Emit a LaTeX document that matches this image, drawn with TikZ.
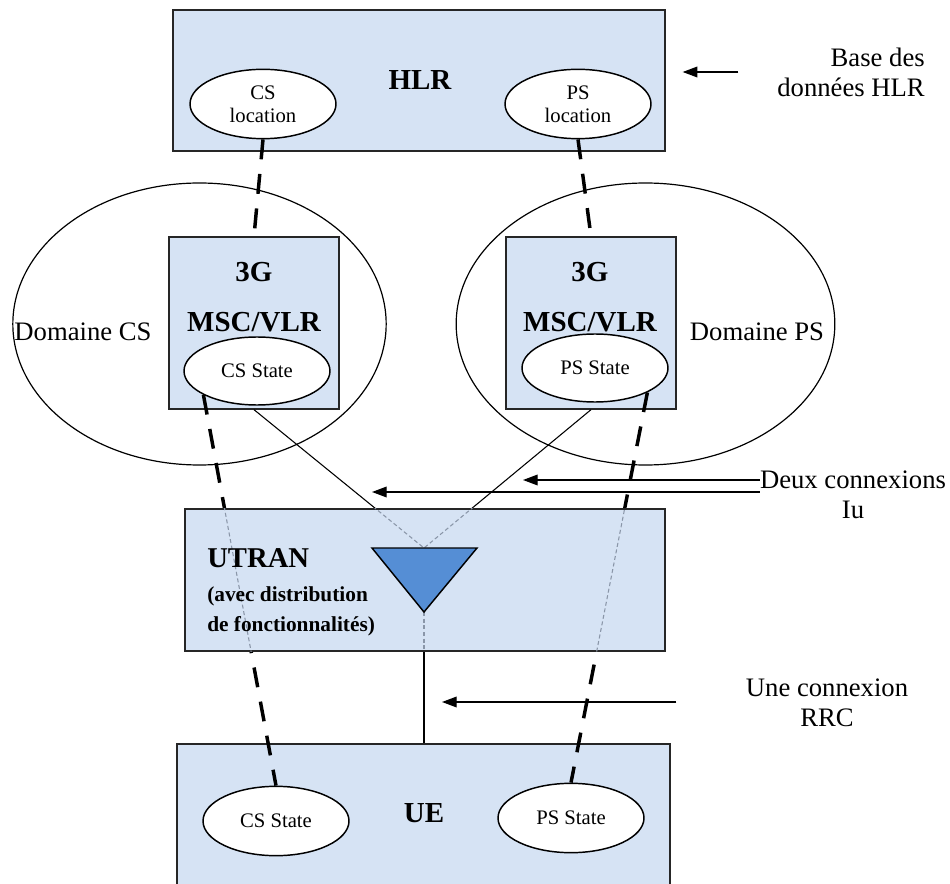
\documentclass[tikz,border=0pt]{standalone}
\usepackage{fontspec}
\setmainfont{Liberation Serif}
\usetikzlibrary{arrows.meta,shapes.geometric}
\definecolor{boxCol}{HTML}{D6E3F4}
\definecolor{triCol}{HTML}{558ED5}
\definecolor{faintCol}{HTML}{8A96A8}
\tikzset{
  blk/.style={draw=black!85, line width=1pt, fill=boxCol, inner sep=0pt},
  st/.style={ellipse, draw, line width=1.1pt, fill=white, minimum width=109.5pt, minimum height=52pt,
             inner sep=0pt, align=center, font=\fontsize{15.5}{17.5}\selectfont},
  dom/.style={ellipse, draw, line width=0.9pt, inner sep=0pt, minimum height=211.5pt},
  ttl/.style={font=\fontsize{21.75}{38}\selectfont\bfseries, align=center, inner sep=0pt},
  lbl/.style={font=\fontsize{20}{22.5}\selectfont, inner sep=0pt},
  sub/.style={font=\fontsize{16}{18}\selectfont\bfseries, anchor=base west, inner sep=0pt},
  trunk/.style={line width=2.6pt, dash pattern=on 15pt off 11pt},   % location/state link
  link/.style={line width=0.8pt},                                   % Iu / RRC connexion
  ghost/.style={faintCol, line width=0.8pt, densely dashed},        % seen through UTRAN
  arr/.style={-{Triangle[length=11pt,width=8pt]}, line width=1pt},
}

\begin{document}
\begin{tikzpicture}[x=0.75pt, y=-0.75pt]
  \useasboundingbox (0,0) rectangle (950,884);
  \clip (0,0) rectangle (950,884);

  % domains
  \node[dom, minimum width=280pt] (domcs) at (199.5,324) {};
  \node[dom, minimum width=284pt] (domps) at (645.5,324) {};
  \node[lbl] (domcslbl) at (83,332) {Domaine CS};
  \node[lbl] (dompslbl) at (757,332) {Domaine PS};

  % HLR
  \node[blk, minimum width=369pt, minimum height=105.75pt] (hlr) at (419,80.5) {};
  \node[ttl] (hlrlbl) at (420,80) {HLR};
  \node[st] (csloc) at (263,104) {CS\\location};
  \node[st] (psloc) at (578,104) {PS\\location};

  % 3G MSC/VLR
  \node[blk, minimum width=127.5pt, minimum height=129pt] (msccs) at (254,323) {};
  \node[blk, minimum width=127.5pt, minimum height=129pt] (mscps) at (591,323) {};
  \node[ttl] (msccslbl) at (254,297) {3G\\MSC/VLR};
  \node[ttl] (mscpslbl) at (590,297) {3G\\MSC/VLR};
  \node[st, minimum height=51pt] (cssta) at (257,371) {CS State};
  \node[st, minimum height=51pt] (pssta) at (595,368) {PS State};

  % UE
  \node[blk, minimum width=369.75pt, minimum height=117pt] (ue) at (423.5,822) {};
  \node[ttl] (uelbl) at (424,813) {UE};
  \node[st] (uecs) at (276,821) {CS State};
  \node[st] (ueps) at (571,818) {PS State};

  % links
  \coordinate (tritop) at (424,548);
  \coordinate (tribot) at (424,612);
  \draw[trunk] (csloc.south) -- (msccs.north);
  \draw[trunk] (psloc.south) -- (mscps.north);
  \draw[trunk] (cssta.204) -- (uecs.north);
  \draw[trunk] (pssta.-25) -- (ueps.north);
  \draw[link] (msccs.south) -- (tritop);
  \draw[link] (mscps.south) -- (tritop);
  \draw[link] (tribot) -- (tribot |- ue.north);

  % UTRAN
  \node[blk, minimum width=360pt, minimum height=106.5pt] (utran) at (425,580) {};
  \begin{scope}
    \clip (utran.south west) rectangle (utran.north east);
    \draw[ghost] (cssta.204) -- (uecs.north);
    \draw[ghost] (pssta.-25) -- (ueps.north);
    \draw[ghost] (msccs.south) -- (tritop) -- (mscps.south);
    \draw[ghost] (tribot) -- (tribot |- ue.north);
  \end{scope}
  \draw[line width=1.1pt, fill=triCol] (372,548) -- (477,548) -- (tribot) -- cycle;
  \node[sub, font=\fontsize{21.5}{24}\selectfont\bfseries] (utranA) at (207,567) {UTRAN};
  \node[sub] (utranB) at (207,601) {(avec distribution};
  \node[sub] (utranC) at (207,631) {de fonctionnalités)};

  % notes
  \node[lbl, align=right, anchor=east] (hlrnote) at (925,72) {Base des\\données HLR};
  \draw[arr] ([xshift=-29pt]hlrnote.west) -- ([xshift=12.75pt]hlr.east |- hlrnote.west);

  \coordinate (iuB) at (523,480);
  \coordinate (iuA) at (372,492);
  \node[lbl, align=center] (iunote) at (853,495) {Deux connexions\\Iu};
  \draw[arr] (iunote.west |- iuB) -- (iuB);
  \draw[arr] (iunote.west |- iuA) -- (iuA);

  \coordinate (rrc) at (442,702);
  \node[lbl, align=center] (rrcnote) at (827,703) {Une connexion\\RRC};
  \draw[arr] ([xshift=-52pt]rrcnote.west |- rrc) -- (rrc);
\end{tikzpicture}
\end{document}
